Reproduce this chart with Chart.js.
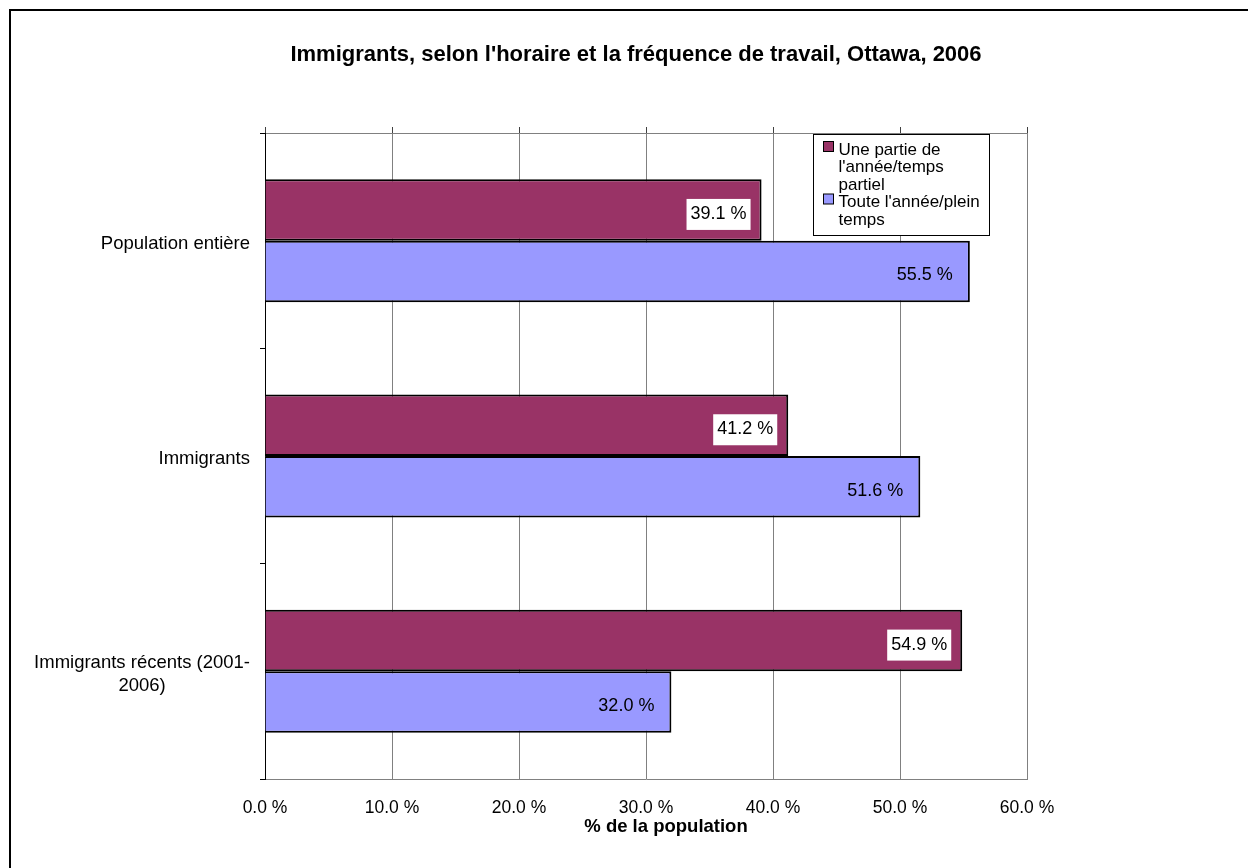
<!DOCTYPE html>
<html lang="fr">
<head>
<meta charset="utf-8">
<title>Immigrants, selon l'horaire et la fréquence de travail, Ottawa, 2006</title>
<script src="https://cdn.jsdelivr.net/npm/chart.js@4/dist/chart.umd.min.js"></script>
<style>
  html, body { margin: 0; padding: 0; background: #ffffff; overflow: hidden; }
  #wrap { position: absolute; left: 0; top: 0; width: 1272px; height: 900px; }
</style>
</head>
<body>
<div id="wrap"><canvas id="chart" width="1272" height="900"></canvas></div>
<script>
// Catégories (axe vertical), de haut en bas
const categories = ['Population entière', 'Immigrants', ['Immigrants récents (2001-', '2006)']];

// Séries, en % de la population
const seriesNames = ["Une partie de l'année/temps partiel", "Toute l'année/plein temps"];
const partTimeValues = [39.1, 41.2, 54.9];
const fullTimeValues = [55.5, 51.6, 32.0];

// Axe horizontal
const xTicks = [0, 10, 20, 30, 40, 50, 60];

const chartTitle = "Immigrants, selon l'horaire et la fréquence de travail, Ottawa, 2006";
const xAxisTitle = '% de la population';

const FONT = "'Liberation Sans', Arial, sans-serif";
const fmtPct = v => v.toFixed(1) + ' %';

// Cadre, libellés de catégories, étiquettes de valeurs et légende
const decorations = {
  id: 'decorations',
  beforeDraw(chart) {
    const ctx = chart.ctx;
    ctx.save();
    ctx.fillStyle = '#ffffff';
    ctx.fillRect(0, 0, chart.width, chart.height);
    ctx.restore();
  },
  afterDatasetsDraw(chart) {
    const ctx = chart.ctx;
    ctx.save();
    ctx.font = '18px ' + FONT;
    ctx.textBaseline = 'middle';
    chart.data.datasets.forEach((ds, di) => {
      const meta = chart.getDatasetMeta(di);
      meta.data.forEach((bar, i) => {
        const text = fmtPct(ds.data[i]);
        const w = ctx.measureText(text).width;
        const cy = bar.y + 4;
        ctx.textAlign = 'right';
        if (di === 0) {
          const right = bar.x - 11;
          ctx.fillStyle = '#ffffff';
          ctx.fillRect(right - w - 8, cy - 15, w + 8, 31);
          ctx.fillStyle = '#000000';
          ctx.fillText(text, right - 4, cy);
        } else {
          ctx.fillStyle = '#000000';
          ctx.fillText(text, bar.x - 17, cy);
        }
      });
    });
    ctx.restore();
  },
  afterDraw(chart) {
    const ctx = chart.ctx;
    const area = chart.chartArea;
    const yScale = chart.scales.y;
    const xScale = chart.scales.x;
    ctx.save();

    // cadre extérieur
    ctx.strokeStyle = '#000000';
    ctx.lineWidth = 2;
    ctx.strokeRect(10, 10, chart.width - 20, chart.height - 20);

    // bordure droite de la zone de traçage
    ctx.strokeStyle = '#808080';
    ctx.lineWidth = 1;
    ctx.beginPath();
    ctx.moveTo(area.right + 0.5, area.top);
    ctx.lineTo(area.right + 0.5, area.bottom);
    ctx.stroke();

    // titre
    ctx.fillStyle = '#000000';
    ctx.font = 'bold 22px ' + FONT;
    ctx.textAlign = 'center';
    ctx.textBaseline = 'middle';
    ctx.fillText(chartTitle, chart.width / 2, 55);

    // titre de l'axe horizontal
    ctx.font = 'bold 18.5px ' + FONT;
    ctx.fillText(xAxisTitle, (xScale.left + xScale.right) / 2 + 20, 827);

    // libellés de catégories : bloc aligné à droite, lignes centrées
    ctx.font = '18.5px ' + FONT;
    categories.forEach((lab, i) => {
      const lines = Array.isArray(lab) ? lab : [lab];
      const widths = lines.map(l => ctx.measureText(l).width);
      const blockW = Math.max(...widths);
      const right = area.left - 15;
      const lh = 23.5;
      const cy = yScale.getPixelForValue(i) + 3;
      lines.forEach((l, k) => {
        ctx.textAlign = 'center';
        ctx.fillText(l, right - blockW / 2, cy + (k - (lines.length - 1) / 2) * lh);
      });
    });

    // légende
    const boxW = 176, boxH = 101;
    const bx = area.right - 38 - boxW + 0.5;
    const by = area.top + 1 + 0.5;
    ctx.fillStyle = '#ffffff';
    ctx.fillRect(bx, by, boxW, boxH);
    ctx.strokeStyle = '#000000';
    ctx.lineWidth = 1;
    ctx.strokeRect(bx, by, boxW, boxH);
    ctx.font = '17px ' + FONT;
    ctx.textAlign = 'left';
    ctx.textBaseline = 'alphabetic';
    const lineH = 17.5;
    let baseline = by + 20;
    chart.data.datasets.forEach(ds => {
      // découpage du libellé en lignes
      const words = ds.label.split(' ');
      const lines = [];
      let cur = '';
      words.forEach(w => {
        const test = cur ? cur + ' ' + w : w;
        if (ctx.measureText(test).width > 148 && cur) { lines.push(cur); cur = w; }
        else cur = test;
      });
      if (cur) lines.push(cur);
      ctx.fillStyle = ds.backgroundColor;
      ctx.fillRect(bx + 10, baseline - 13, 10, 10);
      ctx.strokeStyle = '#000000';
      ctx.strokeRect(bx + 10, baseline - 13, 10, 10);
      ctx.fillStyle = '#000000';
      lines.forEach(l => {
        ctx.fillText(l, bx + 25, baseline);
        baseline += lineH;
      });
    });
    ctx.restore();
  }
};

new Chart(document.getElementById('chart'), {
  type: 'bar',
  data: {
    labels: categories,
    datasets: [
      {
        label: seriesNames[0],
        data: partTimeValues,
        backgroundColor: '#993366',
        borderColor: '#000000',
        borderWidth: 2,
        categoryPercentage: 0.571,
        barPercentage: 1.0
      },
      {
        label: seriesNames[1],
        data: fullTimeValues,
        backgroundColor: '#9999FF',
        borderColor: '#000000',
        borderWidth: 2,
        categoryPercentage: 0.571,
        barPercentage: 1.0
      }
    ]
  },
  options: {
    indexAxis: 'y',
    responsive: false,
    animation: false,
    devicePixelRatio: 1,
    layout: { padding: { left: 10, top: 127, right: 245, bottom: 0 } },
    plugins: {
      legend: { display: false },
      title: { display: false },
      tooltip: { enabled: false }
    },
    scales: {
      x: {
        type: 'linear',
        position: 'bottom',
        min: 0,
        max: 60,
        afterBuildTicks(scale) { scale.ticks = xTicks.map(v => ({ value: v })); },
        afterFit(scale) { scale.height = 121; },
        ticks: {
          callback: v => fmtPct(v),
          color: '#000000',
          font: { family: FONT, size: 17.5 },
          padding: 19,
          maxRotation: 0
        },
        grid: { color: '#808080', lineWidth: 1, drawTicks: false },
        border: { color: '#808080', width: 1 }
      },
      xTop: {
        type: 'linear',
        position: 'top',
        min: 0,
        max: 60,
        afterBuildTicks(scale) { scale.ticks = xTicks.map(v => ({ value: v })); },
        afterFit(scale) { scale.height = 6; },
        ticks: { display: false },
        grid: { drawOnChartArea: false, drawTicks: true, tickLength: 6, color: '#404040' },
        border: { color: '#808080', width: 1 }
      },
      y: {
        type: 'category',
        offset: true,
        afterFit(scale) { scale.width = 255; },
        ticks: { display: false },
        grid: { offset: true, drawOnChartArea: false, drawTicks: true, tickLength: 5, color: '#000000' },
        border: { color: '#000000', width: 1 }
      }
    }
  },
  plugins: [decorations]
});
</script>
</body>
</html>
